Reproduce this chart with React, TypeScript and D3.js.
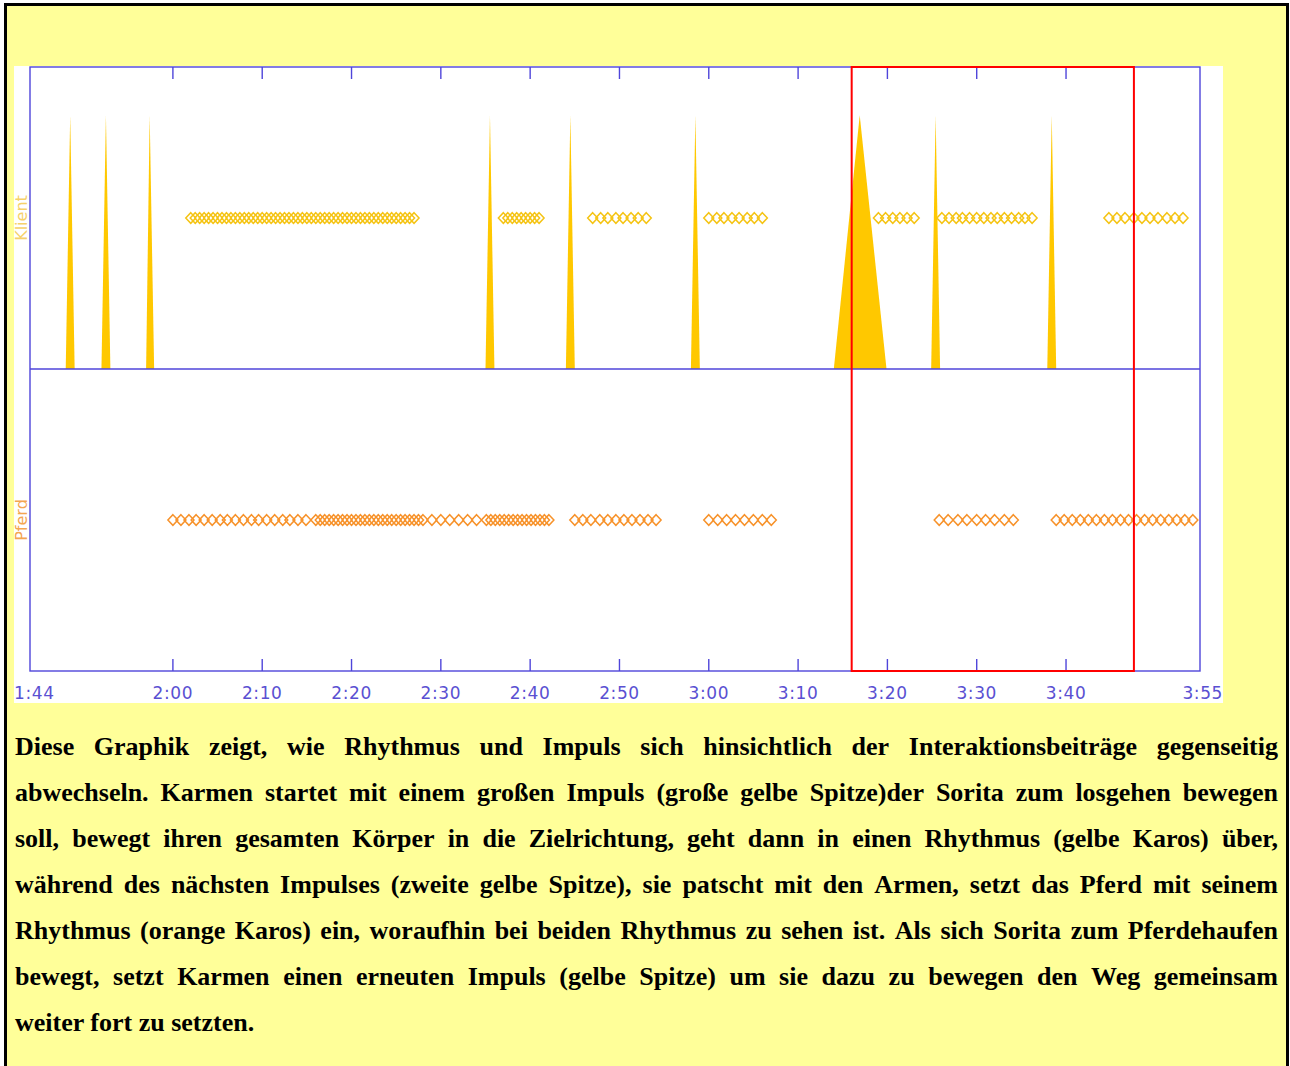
import React, { useRef, useEffect } from "react";
import * as d3 from "d3";

// time axis in seconds (1:44 .. 3:55)
const timeDomain = [104, 235];
const tickSecs = [120, 130, 140, 150, 160, 170, 180, 190, 200, 210, 220];
const tickLabels = ["2:00", "2:10", "2:20", "2:30", "2:40", "2:50", "3:00", "3:10", "3:20", "3:30", "3:40"];
const startLabel = "1:44";
const endLabel = "3:55";

const rowNames = ["Klient", "Pferd"];

// Impulse spikes of the client (start, peak, end in seconds; height 0..1)
const spikeStart = [108.0, 112.0, 117.0, 155.0, 164.0, 178.0, 194.0, 204.9, 217.9];
const spikePeak = [108.5, 112.5, 117.4, 155.5, 164.5, 178.5, 196.9, 205.4, 218.4];
const spikeEnd = [109.0, 113.0, 117.9, 156.0, 165.0, 179.0, 199.9, 205.9, 218.9];
const spikeHeight = [0.84, 0.84, 0.84, 0.84, 0.84, 0.84, 0.84, 0.84, 0.84];

// Rhythm markers (seconds)
const klientRhythm = [
  122.0, 122.5, 123.0, 123.5, 124.0, 124.5, 125.0, 125.5, 126.0, 126.5, 127.0, 127.5, 128.0,
  128.5, 129.0, 129.5, 130.0, 130.5, 131.0, 131.5, 132.0, 132.5, 133.0, 133.5, 134.0, 134.5,
  135.0, 135.5, 136.0, 136.5, 137.0, 137.5, 138.0, 138.5, 139.0, 139.5, 140.0, 140.5, 141.0,
  141.5, 142.0, 142.5, 143.0, 143.5, 144.0, 144.5, 145.0, 145.5, 146.0, 146.5, 147.0,
  157.0, 157.5, 158.0, 158.5, 159.0, 159.5, 160.0, 160.5, 161.0,
  167.0, 167.9, 168.7, 169.6, 170.4, 171.3, 172.1, 173.0,
  180.0, 180.9, 181.7, 182.6, 183.4, 184.3, 185.1, 186.0,
  199.0, 199.8, 200.6, 201.4, 202.2, 203.0,
  206.1, 206.9, 207.7, 208.4, 209.2, 210.0, 210.8, 211.6, 212.3, 213.1, 213.9, 214.7, 215.4, 216.2,
  224.8, 225.7, 226.6, 227.6, 228.5, 229.4, 230.3, 231.3, 232.2, 233.1,
];
const pferdRhythm = [
  120.0, 120.9, 121.8, 122.6, 123.5, 124.4, 125.3, 126.1, 127.0, 127.9, 128.8, 129.6, 130.5,
  131.4, 132.3, 133.1, 134.0, 134.9,
  136.0, 136.5, 137.0, 137.5, 138.0, 138.5, 139.0, 139.5, 140.0, 140.5, 141.0, 141.5, 142.0,
  142.5, 143.0, 143.5, 144.0, 144.5, 145.0, 145.5, 146.0, 146.5, 147.0, 147.5, 148.0,
  149.0, 150.0, 151.0, 152.0, 153.0, 154.0,
  155.1, 155.6, 156.1, 156.6, 157.1, 157.6, 158.1, 158.6, 159.1, 159.6, 160.1, 160.6, 161.1, 161.6, 162.1,
  165.0, 165.9, 166.8, 167.8, 168.7, 169.6, 170.5, 171.4, 172.3, 173.2, 174.1,
  180.0, 181.0, 182.0, 183.0, 184.0, 185.0, 186.0, 187.0,
  205.8, 206.8, 207.9, 208.9, 210.0, 211.0, 212.0, 213.1, 214.1,
  218.9, 219.8, 220.7, 221.6, 222.5, 223.4, 224.3, 225.2, 226.1, 227.0, 227.9, 228.8, 229.7,
  230.6, 231.5, 232.4, 233.3, 234.2,
];

// highlighted window
const focusWindow = [196.0, 227.6];

const captionLines = [
  "Diese Graphik zeigt, wie Rhythmus und Impuls sich hinsichtlich der Interaktionsbeiträge gegenseitig",
  "abwechseln. Karmen startet mit einem großen Impuls (große gelbe Spitze)der Sorita zum losgehen bewegen",
  "soll, bewegt ihren gesamten Körper in die Zielrichtung, geht dann in einen Rhythmus (gelbe Karos) über,",
  "während des nächsten Impulses (zweite gelbe Spitze), sie patscht mit den Armen, setzt das Pferd mit seinem",
  "Rhythmus (orange Karos) ein, woraufhin bei beiden Rhythmus zu sehen ist. Als sich Sorita zum Pferdehaufen",
  "bewegt, setzt Karmen einen erneuten Impuls (gelbe Spitze) um sie dazu zu bewegen den Weg gemeinsam",
  "weiter fort zu setzten.",
];

const W = 1290;
const H = 1066;
const frame = { left: 30, right: 1200, top: 67, mid: 369, bottom: 671 };
const axisColor = "#4f45da";
const labelColor = "#5a50d2";
const spikeColor = "#ffc800";
const klientColor = "#f5c414";
const pferdColor = "#f7922a";
const diamond = "M0,-5.3L5,0L0,5.3L-5,0Z";

const App: React.FC = () => {
  const textRef = useRef<SVGGElement | null>(null);

  const x = d3.scaleLinear().domain(timeDomain).range([frame.left, frame.right]);
  const yTop = d3.scaleLinear().domain([0, 1]).range([frame.mid, frame.top]);
  const yBottom = d3.scaleLinear().domain([0, 1]).range([frame.bottom, frame.mid]);

  const spikeArea = d3
    .area<[number, number]>()
    .x((d) => x(d[0]))
    .y0(yTop(0))
    .y1((d) => yTop(d[1]));

  const spikes = spikePeak.map((p, i) => [
    [spikeStart[i], 0],
    [p, spikeHeight[i]],
    [spikeEnd[i], 0],
  ] as [number, number][]);

  useEffect(() => {
    const g = d3.select(textRef.current);
    g.selectAll("*").remove();
    const left = 15;
    const right = 1278;
    const lineH = 46;
    const base = 755;
    captionLines.forEach((line, li) => {
      const yy = base + li * lineH;
      const words = line.split(" ");
      if (li === captionLines.length - 1) {
        g.append("text").attr("x", left).attr("y", yy).text(line);
        return;
      }
      const nodes = words.map((w) => g.append("text").attr("y", yy).text(w));
      const widths = nodes.map((n) => (n.node() as SVGTextElement).getComputedTextLength());
      const total = d3.sum(widths);
      const gap = (right - left - total) / (words.length - 1);
      let cx = left;
      nodes.forEach((n, i) => {
        n.attr("x", cx);
        cx += widths[i] + gap;
      });
    });
  }, []);

  return (
    <div style={{ position: "absolute", left: 0, top: 0 }}>
      <svg width={W} height={H} style={{ display: "block" }}>
        <rect x={5.5} y={4.5} width={1282} height={1100} fill="#ffff99" stroke="#000" strokeWidth={3} />
        <rect x={14} y={66} width={1209} height={637} fill="#fff" />

        {/* impulse spikes */}
        {spikes.map((s, i) => (
          <path key={"s" + i} d={spikeArea(s) || ""} fill={spikeColor} />
        ))}

        {/* rhythm diamonds */}
        {klientRhythm.map((t, i) => (
          <path
            key={"k" + i}
            d={diamond}
            transform={`translate(${x(t)},${yTop(0.5)})`}
            fill="none"
            stroke={klientColor}
            strokeWidth={1.5}
          />
        ))}
        {pferdRhythm.map((t, i) => (
          <path
            key={"p" + i}
            d={diamond}
            transform={`translate(${x(t)},${yBottom(0.5)})`}
            fill="none"
            stroke={pferdColor}
            strokeWidth={1.5}
          />
        ))}

        {/* frame */}
        <rect
          x={frame.left}
          y={frame.top}
          width={frame.right - frame.left}
          height={frame.bottom - frame.top}
          fill="none"
          stroke={axisColor}
          strokeWidth={1.4}
        />
        <line x1={frame.left} x2={frame.right} y1={frame.mid} y2={frame.mid} stroke={axisColor} strokeWidth={1.4} />
        {tickSecs.map((t) => (
          <g key={"t" + t}>
            <line x1={x(t)} x2={x(t)} y1={frame.top} y2={frame.top + 12} stroke={axisColor} strokeWidth={1.4} />
            <line x1={x(t)} x2={x(t)} y1={frame.bottom} y2={frame.bottom - 12} stroke={axisColor} strokeWidth={1.4} />
          </g>
        ))}

        {/* highlighted window */}
        <rect
          x={x(focusWindow[0])}
          y={frame.top}
          width={x(focusWindow[1]) - x(focusWindow[0])}
          height={frame.bottom - frame.top}
          fill="none"
          stroke="#ff0000"
          strokeWidth={2}
        />

        {/* tick labels */}
        <g fontFamily="DejaVu Sans" fontSize={17} fill={labelColor} letterSpacing={0.6}>
          {tickSecs.map((t, i) => (
            <text key={"l" + t} x={x(t)} y={699} textAnchor="middle">
              {tickLabels[i]}
            </text>
          ))}
          <text x={14} y={699}>{startLabel}</text>
          <text x={1223} y={699} textAnchor="end">{endLabel}</text>
        </g>

        {/* row labels */}
        <g fontFamily="DejaVu Sans" fontSize={16}>
          <text
            transform={`translate(27,${yTop(0.5)}) rotate(-90)`}
            textAnchor="middle"
            fill="#f6d16a"
          >
            {rowNames[0]}
          </text>
          <text
            transform={`translate(27,${yBottom(0.5)}) rotate(-90)`}
            textAnchor="middle"
            fill="#f4a650"
          >
            {rowNames[1]}
          </text>
        </g>

        <g ref={textRef} fontFamily="Liberation Serif" fontWeight="bold" fontSize={26} fill="#000" />
      </svg>
    </div>
  );
};

export default App;
